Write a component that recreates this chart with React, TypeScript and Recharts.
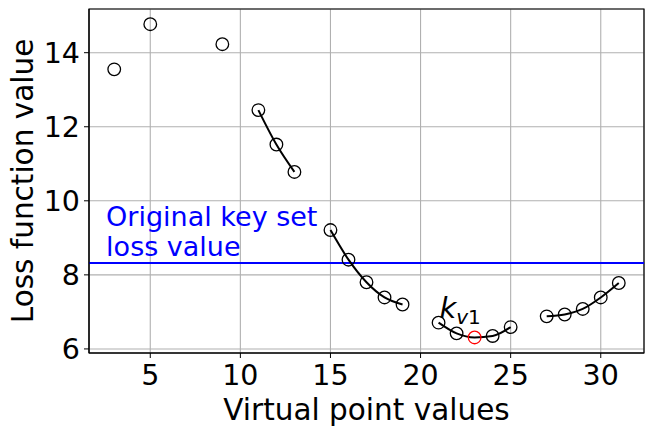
import {
  ComposedChart,
  Line,
  Scatter,
  XAxis,
  YAxis,
  CartesianGrid,
  ReferenceLine,
  ReferenceArea,
  ReferenceDot,
} from "recharts";

const virtualPoints = [3, 5, 9, 11, 12, 13, 15, 16, 17, 18, 19, 21, 22, 23, 24, 25, 27, 28, 29, 30, 31];
const lossValues = [
  13.55, 14.77, 14.23, 12.45, 11.52, 10.78, 9.21, 8.41, 7.8, 7.39, 7.2, 6.71, 6.42, 6.31, 6.35, 6.59, 6.88,
  6.93, 7.08, 7.39, 7.78,
];
const curveGroups = [
  [11, 12, 13],
  [15, 16, 17, 18, 19],
  [21, 22, 23, 24, 25],
  [27, 28, 29, 30, 31],
];
const bestPoint = 23;
const originalLoss = 8.32;
const xTicks = [5, 10, 15, 20, 25, 30];
const yTicks = [6, 8, 10, 12, 14];
const xDomain = [1.6, 32.4];
const yDomain = [5.89, 15.18];

const font = "'DejaVu Sans', sans-serif";

const points = virtualPoints.map((x, i) => ({ x, y: lossValues[i] }));
const curves = curveGroups.map((g) => points.filter((p) => g.includes(p.x)));

const Marker = (props: any) => {
  const { cx, cy, payload } = props;
  return (
    <circle
      cx={cx}
      cy={cy}
      r={6.3}
      fill="none"
      stroke={payload.x === bestPoint ? "#ff0000" : "#000"}
      strokeWidth={1.3}
    />
  );
};

const App = () => {
  return (
    <div style={{ position: "absolute", left: 0, top: 0 }}>
      <ComposedChart width={653} height={434} margin={{ top: 9, right: 9, bottom: 0, left: 0 }}>
        <CartesianGrid stroke="#b0b0b0" strokeWidth={1.1} />
        <XAxis
          dataKey="x"
          type="number"
          domain={xDomain}
          ticks={xTicks}
          allowDataOverflow
          height={81}
          tickSize={5}
          tickMargin={7}
          stroke="#000"
          tick={{ fill: "#000", fontSize: 28.5, fontFamily: font }}
          label={{
            content: ({ viewBox }: any) => (
              <text
                x={viewBox.x + viewBox.width / 2}
                y={420}
                textAnchor="middle"
                fontSize={29.5}
                fontFamily={font}
                fill="#000"
              >
                Virtual point values
              </text>
            ),
          }}
        />
        <YAxis
          type="number"
          domain={yDomain}
          ticks={yTicks}
          allowDataOverflow
          width={89}
          tickSize={5}
          tickMargin={4}
          stroke="#000"
          tick={{ fill: "#000", fontSize: 28.5, fontFamily: font }}
          label={{
            content: ({ viewBox }: any) => {
              const cx = 33;
              const cy = viewBox.y + viewBox.height / 2;
              return (
                <text
                  x={cx}
                  y={cy}
                  transform={`rotate(-90, ${cx}, ${cy})`}
                  textAnchor="middle"
                  fontSize={29.5}
                  fontFamily={font}
                  fill="#000"
                >
                  Loss function value
                </text>
              );
            },
          }}
        />
        <ReferenceArea
          x1={xDomain[0]}
          x2={xDomain[1]}
          y1={yDomain[0]}
          y2={yDomain[1]}
          fill="none"
          stroke="#000"
          strokeWidth={1.2}
          ifOverflow="visible"
        />
        <ReferenceLine y={originalLoss} stroke="#0000ff" strokeWidth={2} />
        {curves.map((c, i) => (
          <Line
            key={i}
            data={c}
            dataKey="y"
            type="monotone"
            stroke="#000"
            strokeWidth={2}
            dot={false}
            activeDot={false}
            isAnimationActive={false}
          />
        ))}
        <Scatter data={points} dataKey="y" shape={Marker} isAnimationActive={false} />
        <ReferenceDot
          x={2.55}
          y={8.52}
          r={1}
          fill="none"
          stroke="none"
          label={{
            content: ({ viewBox }: any) => {
              const x = viewBox.x + 1;
              const y = viewBox.y + 1;
              return (
                <text x={x} y={y} fontSize={27} fontFamily={font} fill="#0000ff">
                  <tspan x={x} dy={-30}>
                    Original key set
                  </tspan>
                  <tspan x={x} dy={30}>
                    loss value
                  </tspan>
                </text>
              );
            },
          }}
        />
        <ReferenceDot
          x={21.05}
          y={6.83}
          r={1}
          fill="none"
          stroke="none"
          label={{
            content: ({ viewBox }: any) => {
              const x = viewBox.x + 1;
              const y = viewBox.y + 1;
              return (
                <text x={x} y={y} fontFamily={font} fill="#000">
                  <tspan fontSize={29} fontStyle="italic">
                    k
                  </tspan>
                  <tspan fontSize={20} dy={6} fontStyle="italic">
                    v
                  </tspan>
                  <tspan fontSize={20}>1</tspan>
                </text>
              );
            },
          }}
        />
      </ComposedChart>
    </div>
  );
};

export default App;
